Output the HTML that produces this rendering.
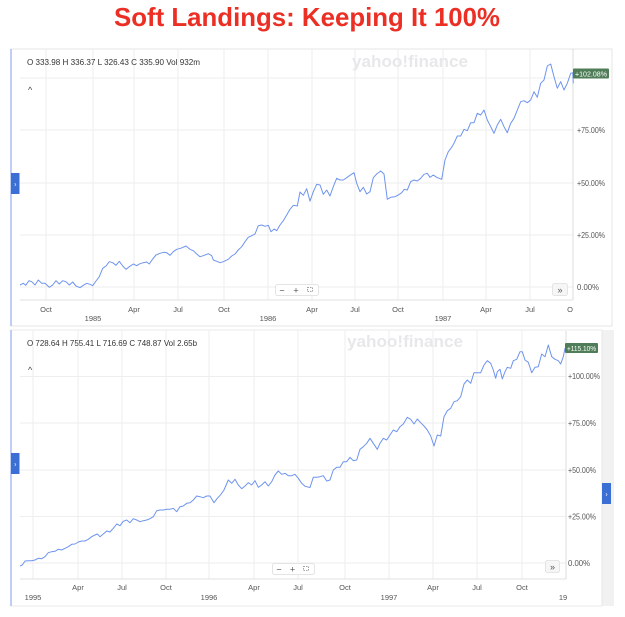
<!DOCTYPE html>
<html><head><meta charset="utf-8"><style>
html,body{margin:0;padding:0;background:#fff;}
body{width:625px;height:617px;overflow:hidden;}
svg{display:block;}
text{font-family:"Liberation Sans",sans-serif;}
</style></head><body>
<svg width="625" height="617" viewBox="0 0 625 617" xmlns="http://www.w3.org/2000/svg">
<rect width="625" height="617" fill="#fff"/>
<!-- Title -->
<text x="307" y="26" text-anchor="middle" font-size="26" font-weight="bold" fill="#ec2f24" textLength="386" lengthAdjust="spacingAndGlyphs">Soft Landings: Keeping It 100%</text>

<!-- ===== Chart 1 ===== -->
<rect x="11" y="49" width="601" height="277" fill="#fff" stroke="#e6e6e6" stroke-width="1"/>
<line x1="11" y1="49" x2="11" y2="326" stroke="#7d9ee8" stroke-width="1"/>
<g stroke="#eeeeee" stroke-width="1">
<line x1="46" y1="49" x2="46" y2="300"/><line x1="93" y1="49" x2="93" y2="300"/><line x1="134" y1="49" x2="134" y2="300"/><line x1="178" y1="49" x2="178" y2="300"/><line x1="224" y1="49" x2="224" y2="300"/><line x1="268" y1="49" x2="268" y2="300"/><line x1="312" y1="49" x2="312" y2="300"/><line x1="355" y1="49" x2="355" y2="300"/><line x1="398" y1="49" x2="398" y2="300"/><line x1="443" y1="49" x2="443" y2="300"/><line x1="486" y1="49" x2="486" y2="300"/><line x1="530" y1="49" x2="530" y2="300"/>
<line x1="20" y1="78" x2="573" y2="78"/><line x1="20" y1="130" x2="573" y2="130"/><line x1="20" y1="183" x2="573" y2="183"/><line x1="20" y1="235" x2="573" y2="235"/><line x1="20" y1="287" x2="573" y2="287"/>
</g>
<line x1="20" y1="300" x2="573" y2="300" stroke="#e2e2e2" stroke-width="1"/>
<line x1="573" y1="49" x2="573" y2="300" stroke="#dcdcdc" stroke-width="1"/>
<text x="352" y="67" font-size="17" font-weight="bold" fill="#e8e8ea" textLength="116" lengthAdjust="spacingAndGlyphs">yahoo!finance</text>
<text x="27" y="65" font-size="8.5" fill="#333" textLength="173" lengthAdjust="spacingAndGlyphs">O 333.98  H 336.37  L 326.43  C 335.90  Vol 932m</text>
<text x="28" y="93" font-size="9" fill="#444">^</text>
<g font-size="8" fill="#555">
<text x="577" y="133" textLength="28" lengthAdjust="spacingAndGlyphs">+75.00%</text>
<text x="577" y="186" textLength="28" lengthAdjust="spacingAndGlyphs">+50.00%</text>
<text x="577" y="238" textLength="28" lengthAdjust="spacingAndGlyphs">+25.00%</text>
<text x="577" y="290" textLength="22" lengthAdjust="spacingAndGlyphs">0.00%</text>
</g>
<g font-size="7.5" fill="#555" text-anchor="middle">
<text x="46" y="312">Oct</text><text x="134" y="312">Apr</text><text x="178" y="312">Jul</text><text x="224" y="312">Oct</text><text x="312" y="312">Apr</text><text x="355" y="312">Jul</text><text x="398" y="312">Oct</text><text x="486" y="312">Apr</text><text x="530" y="312">Jul</text><text x="570" y="312">O</text>
<text x="93" y="321">1985</text><text x="268" y="321">1986</text><text x="443" y="321">1987</text>
</g>
<polyline fill="none" stroke="#6e94ee" stroke-width="1" stroke-linejoin="round" points="20,285 23.3,283.3 25.7,285.3 29,280.7 31.7,281.7 35,285 38.3,280 41.7,283.3 45,283.3 49.3,287.3 52.7,285 56,280.7 59.3,284 62.7,280.7 66,281.7 69.3,285 72.7,282 76,286 80,287.7 83.3,285.3 86.7,283.3 90,284.3 92.7,285.7 96,281 99.3,276.7 102.7,268.3 106,266 109.3,261.7 112.7,262.7 116,265.3 119.3,261.3 122.7,266 126,269.3 129.3,266.7 133.3,264 136.7,265.7 140,263.7 143.3,262.7 146.7,262 149.3,264 152.7,259 156,255 160,253.3 164,252.3 166.7,252.7 170,255.3 173.3,251.7 176.7,249.3 180.7,248.3 186,246 190,249.3 193.3,250.7 196.7,254 200,256.7 203.3,255.7 208.3,253.7 211.7,255.7 213.3,260 216.7,261.3 220,262.7 223.3,261.7 228.3,259.3 231.7,256 235,254 238.3,250 241.7,246.7 245,241.7 248.3,237.3 251.7,235.7 255,234 258.3,225.7 261.7,225 265,226.3 268.3,225.3 271,231.7 274.3,229 276.7,230.7 280,225 283.3,220.7 286.7,215 290,209.3 293.3,205.3 297.3,206 300,192 303.3,195.3 306.7,188.7 310,201.2 313.3,191.7 316.7,184.3 320,185 323.3,194.3 326.7,190 330,196 333.3,186.7 336.7,178.3 340,180 343.3,180 346.7,177.7 350,175.3 354,172.7 356.7,183.3 360,191.7 363.3,187.3 366.7,194 370,191.7 373.3,177.7 376.7,174 380.7,171 384,174 387.3,199.3 390.7,197.3 395,196.7 398.3,195 401.7,192.7 404.3,189.3 407.3,190 410.7,181.7 414,180 417.3,181 420.7,178.3 424,174.3 427.3,173.3 430,177.3 433.3,175 436.7,177.3 441.7,179.3 445,160 448.3,151.7 451.7,147.3 454,143.3 457.3,136 460.7,136 464,129.3 467.3,130.7 470.7,122.7 474,122.7 477.3,113.3 480.7,115 484,110 487.3,120 490.7,126.7 494,133.3 497.3,125 500.7,119.3 504,126.7 507.3,132.7 510.7,123.3 514,118.3 517.3,110 520.7,101.7 524,100.7 527.3,102.7 530.7,100 534,91.7 537.3,97.3 540.7,83.3 544,80 547.3,66 550.7,64 554,76.7 557.3,88.3 560.7,81.7 564,90 567.3,83.3 570.7,73.3 572.7,72.7 573.3,83.3"/>
<rect x="573" y="68.5" width="36" height="10" rx="1" fill="#4f7d58"/>
<text x="575" y="76.5" font-size="7.5" fill="#fff" textLength="32" lengthAdjust="spacingAndGlyphs">+102.08%</text>
<!-- controls chart 1 -->
<rect x="275.5" y="284.5" width="43" height="11" rx="2" fill="#fff" stroke="#e4e4e4"/>
<text x="282" y="293.5" font-size="9" fill="#555" text-anchor="middle">−</text>
<text x="296" y="293.5" font-size="9" fill="#555" text-anchor="middle">+</text>
<rect x="307.5" y="287.5" width="5" height="4" fill="none" stroke="#888" stroke-width="0.8" stroke-dasharray="1.5,1"/>
<rect x="552.5" y="283.5" width="15" height="12" rx="2" fill="#f6f6f6" stroke="#e4e4e4"/>
<text x="560" y="293" font-size="9" fill="#555" text-anchor="middle">»</text>
<rect x="11" y="173" width="8.5" height="21" fill="#3b6fd4"/>
<text x="15.3" y="186.5" font-size="7" fill="#fff" text-anchor="middle">›</text>

<!-- ===== Chart 2 ===== -->
<rect x="602" y="330" width="12" height="276" fill="#f1f1f1"/>
<rect x="11" y="330" width="591" height="276" fill="#fff" stroke="#e8e8e8" stroke-width="1"/>
<line x1="11" y1="330" x2="11" y2="606" stroke="#7d9ee8" stroke-width="1"/>
<g stroke="#eeeeee" stroke-width="1">
<line x1="33" y1="331" x2="33" y2="579"/><line x1="78" y1="331" x2="78" y2="579"/><line x1="122" y1="331" x2="122" y2="579"/><line x1="166" y1="331" x2="166" y2="579"/><line x1="209" y1="331" x2="209" y2="579"/><line x1="254" y1="331" x2="254" y2="579"/><line x1="298" y1="331" x2="298" y2="579"/><line x1="345" y1="331" x2="345" y2="579"/><line x1="389" y1="331" x2="389" y2="579"/><line x1="433" y1="331" x2="433" y2="579"/><line x1="477" y1="331" x2="477" y2="579"/><line x1="522" y1="331" x2="522" y2="579"/>
<line x1="20" y1="376.5" x2="566" y2="376.5"/><line x1="20" y1="423" x2="566" y2="423"/><line x1="20" y1="470" x2="566" y2="470"/><line x1="20" y1="516.5" x2="566" y2="516.5"/><line x1="20" y1="563" x2="566" y2="563"/>
</g>
<line x1="20" y1="579" x2="566" y2="579" stroke="#e2e2e2" stroke-width="1"/>
<line x1="566" y1="331" x2="566" y2="579" stroke="#dcdcdc" stroke-width="1"/>
<text x="347" y="347" font-size="17" font-weight="bold" fill="#e8e8ea" textLength="116" lengthAdjust="spacingAndGlyphs">yahoo!finance</text>
<text x="27" y="346" font-size="8.5" fill="#333" textLength="170" lengthAdjust="spacingAndGlyphs">O 728.64  H 755.41  L 716.69  C 748.87  Vol 2.65b</text>
<text x="28" y="373" font-size="9" fill="#444">^</text>
<g font-size="8" fill="#555">
<text x="568" y="379" textLength="32" lengthAdjust="spacingAndGlyphs">+100.00%</text>
<text x="568" y="426" textLength="28" lengthAdjust="spacingAndGlyphs">+75.00%</text>
<text x="568" y="473" textLength="28" lengthAdjust="spacingAndGlyphs">+50.00%</text>
<text x="568" y="519.5" textLength="28" lengthAdjust="spacingAndGlyphs">+25.00%</text>
<text x="568" y="566" textLength="22" lengthAdjust="spacingAndGlyphs">0.00%</text>
</g>
<g font-size="7.5" fill="#555" text-anchor="middle">
<text x="78" y="590">Apr</text><text x="122" y="590">Jul</text><text x="166" y="590">Oct</text><text x="254" y="590">Apr</text><text x="298" y="590">Jul</text><text x="345" y="590">Oct</text><text x="433" y="590">Apr</text><text x="477" y="590">Jul</text><text x="522" y="590">Oct</text>
<text x="33" y="600">1995</text><text x="209" y="600">1996</text><text x="389" y="600">1997</text><text x="563" y="600">19</text>
</g>
<polyline fill="none" stroke="#6e94ee" stroke-width="1" stroke-linejoin="round" points="20,566 22.3,565 25,561 28.3,560.7 31.7,560.7 35,560 38.3,558.3 41.7,558.7 45,556.7 48.3,552.7 51.7,551.7 55,551.3 58.3,549.3 61.7,550 65,548.3 68.3,546.7 71.7,544.3 75,544 78.3,542 81.7,541 85,541 88.3,539.3 91.7,536.7 95,535 97.3,534 100,536.7 103.3,534 106.7,531 110,532 113.3,528.3 116.7,524 120,525.7 123.3,521.3 126.7,520 130,522.7 133.3,518.7 136.7,520 140,521.7 143.3,520.7 146.7,520 150,518.7 153.3,516.7 156.7,510.7 160,510 163.3,510 166.7,509.3 170,509.3 173.3,508.3 176.7,511.7 180,506.7 183.3,506 186.7,503.3 190,502.7 193.3,500 196.7,496 200,496.7 203.3,497.7 206.7,496 210,496 214,502.7 217.3,498.3 220.7,494.7 224,490 228.3,480 231.7,483.3 235,479.3 238.3,485 241.7,488.7 245,486 248.3,482.7 251.7,485 255,480.7 258.3,487.3 261.7,485 265,481.7 268.3,486 271.7,481.7 275,475 278.3,471 281.7,474.3 285,473.3 288.3,475.7 291.7,475.7 295,474.3 298.3,478.3 301.7,483.3 305,486.3 310,487.5 313.3,477.3 316.7,477.3 320,476.7 323.3,475.7 326.7,481 330,480 333.3,470 336.7,467.3 340,467.3 343.3,461.7 346.7,461.7 350,457.3 353.3,460.7 356.7,460 360,449.3 363.3,446.7 366.7,443.3 370,438.3 373.3,443.3 377.3,449.3 380,443.3 383.3,438.3 386.7,440 390,435 393.3,430 396.7,431.7 400,426.7 403.3,424 407.3,417.3 410.7,419.3 414,424 417.3,419 420.7,422.7 424,426 427.3,430 430.7,436 434,446 437.3,435 440.7,436 444,416.7 447.3,410.7 450.7,408.3 454,401.7 457.3,400.7 460.7,396.7 464,384 467.3,380 470.7,383.3 474,372.7 477.3,372.7 480.7,372.7 484,365 487.3,360.7 490.7,363.3 493.3,370 495.7,378.3 497.3,371.7 500,369.3 502.3,379 505,371.7 507.3,367.3 510.7,368.3 513.3,360.7 516.7,359.3 520,351.7 522.3,351.7 525,360 528.3,362.3 531.7,372.7 535,367.3 538.3,366.7 541.7,354 545,356.7 548.3,345 551.7,356.7 555,359.3 558.3,360.7 560.7,364 563.3,356.7 565,348.3 566,351.7"/>
<rect x="565" y="343" width="33" height="10" rx="1" fill="#4f7d58"/>
<text x="567" y="351" font-size="7.5" fill="#fff" textLength="29" lengthAdjust="spacingAndGlyphs">+115.10%</text>
<!-- controls chart 2 -->
<rect x="272.5" y="563.5" width="42" height="11" rx="2" fill="#fff" stroke="#e4e4e4"/>
<text x="279" y="572.5" font-size="9" fill="#555" text-anchor="middle">−</text>
<text x="292.5" y="572.5" font-size="9" fill="#555" text-anchor="middle">+</text>
<rect x="303.5" y="566.5" width="5" height="4" fill="none" stroke="#888" stroke-width="0.8" stroke-dasharray="1.5,1"/>
<rect x="545.5" y="560.5" width="14" height="12" rx="2" fill="#f6f6f6" stroke="#e4e4e4"/>
<text x="552.5" y="570" font-size="9" fill="#555" text-anchor="middle">»</text>
<rect x="11" y="453" width="8.5" height="21" fill="#3b6fd4"/>
<text x="15.3" y="466.5" font-size="7" fill="#fff" text-anchor="middle">›</text>
<rect x="602" y="483" width="9" height="21" fill="#3b6fd4"/>
<text x="606.5" y="496.5" font-size="7" fill="#fff" text-anchor="middle">›</text>
</svg>
</body></html>
